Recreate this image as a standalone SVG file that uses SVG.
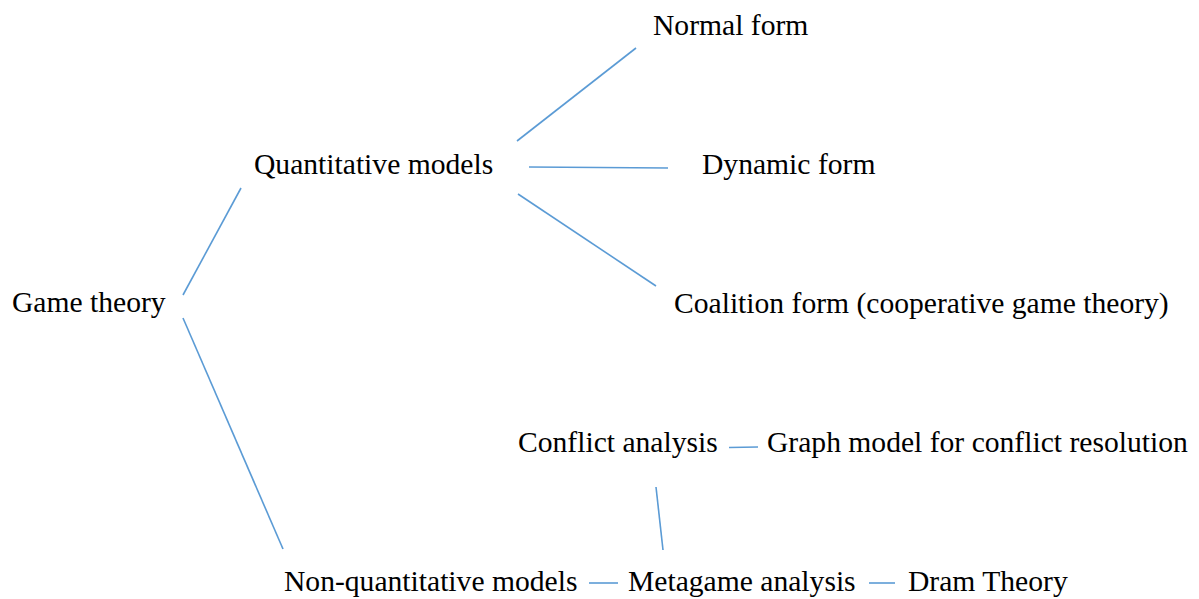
<svg xmlns="http://www.w3.org/2000/svg" width="1199" height="599" viewBox="0 0 1199 599">
<style>
.c line{stroke:#5B9BD5;stroke-width:1.6;fill:none}
</style>
<rect width="1199" height="599" fill="#fff"/>
<g class="c" id="connectors">
<line x1="183" y1="295" x2="241" y2="188"/>
<line x1="183" y1="318" x2="283" y2="549"/>
<line x1="517" y1="141" x2="636" y2="48"/>
<line x1="529" y1="167" x2="668" y2="168"/>
<line x1="518" y1="194" x2="656" y2="286"/>
<line x1="729" y1="447.5" x2="758" y2="447"/>
<line x1="656" y1="487" x2="663" y2="550"/>
<line x1="589" y1="583" x2="618" y2="583"/>
<line x1="869" y1="583" x2="895" y2="583"/>
</g>
<g font-family="Liberation Serif, Tinos, Times New Roman, DejaVu Serif, serif" font-size="29.6" fill="#000">
<g id="game-theory"><text x="12" y="312">Game theory</text></g>
<g id="quantitative"><text x="254" y="174">Quantitative models</text></g>
<g id="normal-form"><text x="653" y="35">Normal form</text></g>
<g id="dynamic-form"><text x="702" y="174">Dynamic form</text></g>
<g id="coalition-form"><text x="674" y="313">Coalition form (cooperative game theory)</text></g>
<g id="conflict-analysis"><text x="518" y="452">Conflict analysis</text></g>
<g id="graph-model"><text x="767" y="452">Graph model for conflict resolution</text></g>
<g id="non-quantitative"><text x="284" y="591">Non-quantitative models</text></g>
<g id="metagame"><text x="628" y="591">Metagame analysis</text></g>
<g id="dram-theory"><text x="908" y="591">Dram Theory</text></g>
</g>
</svg>
